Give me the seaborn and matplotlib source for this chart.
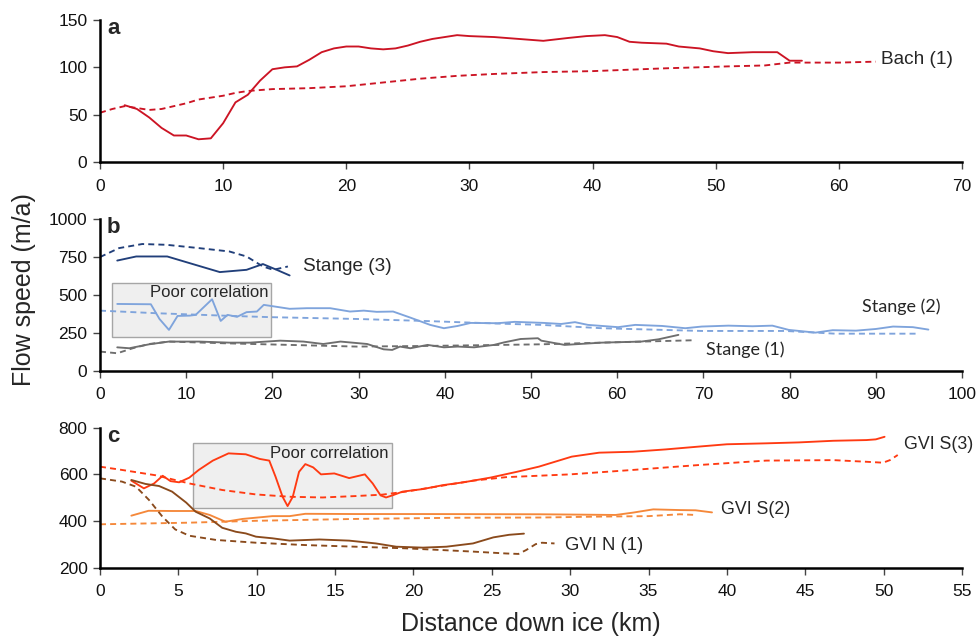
import matplotlib
matplotlib.use("Agg")
import matplotlib.pyplot as plt
import matplotlib.patches as mpatches
import seaborn as sns
import numpy as np

sns.set_theme(style="white")
plt.rcParams['font.family'] = ['Liberation Sans', 'DejaVu Sans']

# ---------------- Panel a: Bach ----------------
bach_obs_x = [2.0, 3.0, 4.0, 5.0, 6.0, 7.0, 8.0, 9.0, 10.0, 11.0, 12.0, 13.0, 14.0, 15.0, 16.0,
              17.0, 18.0, 19.0, 20.0, 21.0, 22.0, 23.0, 24.0, 25.0, 26.0, 27.0, 28.0, 29.0, 30.0,
              32.0, 34.0, 36.0, 38.0, 39.5, 41.0, 42.0, 43.0, 44.0, 46.0, 47.0, 48.7, 49.8, 51.0,
              53.0, 55.0, 56.0, 57.0]
bach_obs_y = [60, 56, 47, 36, 28, 28, 24, 25, 41, 63, 71, 86, 98, 100, 101,
              108, 116, 120, 122, 122, 120, 119, 120, 123, 127, 130, 132, 134, 133,
              132, 130, 128, 131, 133, 134, 132, 127, 126, 125, 122, 120, 117, 115,
              116, 116, 107, 107]
bach_mod_x = [0, 1, 2, 3, 4, 5, 6, 7, 8, 9, 10, 11, 12, 14, 17, 20, 23, 26, 29, 32, 36,
              40, 46, 51, 54, 56, 60, 63]
bach_mod_y = [52, 56, 59, 57, 55, 56, 59, 62, 66, 68, 70, 73, 75, 77, 78, 80, 84, 88, 91,
              93, 95, 96, 99, 101, 102, 105, 105, 106]

# ---------------- Panel b: Stange ----------------
st3_obs_x = [2.0, 4.2, 7.8, 10.4, 13.9, 17.0, 18.9, 20.5, 22.0]
st3_obs_y = [726, 753, 753, 709, 650, 665, 703, 665, 628]
st3_mod_x = [0, 2.2, 4.9, 7.7, 11.5, 15.0, 17.0, 18.9, 20.1, 21.8]
st3_mod_y = [749, 808, 835, 830, 808, 786, 753, 687, 665, 687]

st2_obs_x = [2.0, 5.9, 6.9, 8.0, 9.0, 10.4, 11.1, 13.0, 14.0, 14.8, 15.9, 17.0, 18.2, 19.0,
             22.0, 24.0, 26.7, 29.0, 30.6, 32.1, 34.0, 36.0, 38.3, 39.9, 41.5, 43.0, 46.1,
             48.1, 51.5, 53.5, 55.1, 56.6, 60.1, 62.1, 65.2, 67.9, 69.8, 72.9, 75.7, 78.0,
             79.9, 83.0, 85.0, 87.7, 90.0, 92.0, 94.3, 96.1]
st2_obs_y = [440, 438, 341, 269, 361, 363, 368, 471, 328, 368, 355, 386, 390, 434,
             408, 412, 412, 390, 396, 388, 390, 350, 302, 280, 295, 315, 313,
             322, 315, 308, 320, 302, 287, 302, 295, 280, 291, 297, 293, 297,
             269, 251, 267, 264, 275, 291, 287, 271]
st2_mod_x = [0, 6.5, 14.3, 19.7, 29.8, 37.6, 46.5, 51.2, 58.2, 69.8, 79.5, 85.3, 94.9]
st2_mod_y = [396, 379, 363, 353, 341, 328, 310, 302, 280, 262, 262, 244, 244]

st1_obs_x = [2.0, 3.4, 5.7, 8.0, 11.5, 15.0, 17.4, 20.9, 23.6, 25.9, 27.9, 31.0, 32.9, 33.9,
             34.8, 36.0, 38.0, 39.9, 41.5, 43.4, 45.7, 46.9, 48.8, 50.8, 51.2, 53.9, 58.2,
             62.8, 64.8, 67.1]
st1_obs_y = [154, 148, 174, 192, 192, 185, 185, 198, 192, 176, 192, 176, 141, 137,
             159, 148, 170, 154, 159, 154, 170, 187, 209, 214, 198, 170, 185,
             192, 207, 236]
st1_mod_x = [0, 2.0, 3.8, 5.7, 8.0, 14.3, 22.0, 29.8, 37.6, 46.5, 51.2, 58.2, 69.1]
st1_mod_y = [126, 115, 148, 176, 192, 181, 170, 159, 163, 170, 174, 185, 201]

# ---------------- Panel c: GVI ----------------
gs3_obs_x = [2.0, 2.8, 3.45, 4.0, 4.5, 5.05, 5.7, 6.3, 7.2, 8.2, 9.3, 10.2, 10.8, 11.2, 11.65,
             11.97, 12.3, 12.7, 13.1, 13.6, 14.1, 14.95, 15.9, 16.9, 17.4, 17.9, 18.25, 18.7,
             19.3, 20.6, 21.9, 23.2, 24.9, 26.6, 28.0, 30.1, 31.85, 34.0, 36.1, 38.2, 40.0,
             42.5, 44.6, 46.8, 48.9, 49.5, 50.06]
gs3_obs_y = [573, 540, 561, 594, 571, 566, 586, 619, 659, 690, 686, 666, 659, 590, 504,
             464, 504, 611, 644, 630, 600, 604, 584, 600, 561, 510, 501, 511,
             526, 537, 554, 566, 586, 611, 633, 676, 693, 697, 707, 719, 729,
             733, 737, 744, 747, 750, 761]
gs3_mod_x = [0, 1.4, 3.56, 5.7, 7.8, 9.95, 12.1, 14.2, 16.3, 18.0, 19.5, 21.7, 23.8, 25.9,
             27.6, 30.0, 34.0, 38.2, 42.5, 46.8, 48.9, 49.96, 50.4, 50.9]
gs3_mod_y = [633, 619, 596, 561, 533, 514, 504, 501, 507, 513, 526, 550, 573, 588,
             593, 600, 619, 640, 659, 661, 654, 650, 661, 683]

gs2_obs_x = [2.0, 3.1, 4.6, 6.1, 7.0, 8.0, 9.1, 11.0, 12.1, 13.1, 16.3, 20.6, 28.0, 32.9,
             34.0, 35.3, 37.0, 38.0, 39.05]
gs2_obs_y = [423, 444, 443, 443, 426, 397, 409, 421, 421, 431, 430, 430, 429, 426,
             436, 450, 447, 446, 437]
gs2_mod_x = [0, 5.7, 9.95, 16.3, 22.7, 28.0, 31.85, 35.0, 37.0, 38.0]
gs2_mod_y = [386, 393, 401, 409, 414, 415, 419, 421, 429, 426]

gn1_obs_x = [2.0, 2.9, 3.77, 4.6, 5.5, 6.1, 7.0, 7.8, 8.67, 9.3, 9.95, 11.0, 12.1, 14.0,
             15.9, 17.6, 18.9, 20.6, 22.1, 23.8, 25.1, 26.1, 27.05]
gn1_obs_y = [576, 559, 550, 526, 479, 440, 411, 371, 354, 347, 333, 326, 316, 321,
             316, 304, 290, 286, 290, 304, 330, 341, 346]
gn1_mod_x = [0, 1.4, 2.3, 3.13, 3.98, 4.8, 5.7, 7.4, 9.95, 13.1, 16.3, 19.5, 21.7, 23.8,
             25.9, 26.7, 27.2, 27.8, 28.2, 29.0]
gn1_mod_y = [583, 569, 547, 490, 419, 364, 337, 319, 307, 297, 290, 283, 276, 269,
             261, 259, 276, 301, 307, 304]

# colours
c_bach = "#CC1424"
c_st3 = "#213F7A"
c_st2 = "#7FA4DC"
c_st1 = "#6E6E6E"
c_gs3 = "#FF3A12"
c_gs2 = "#F5883A"
c_gn1 = "#8A4A1C"

dash = (0, (3.2, 2.2))
LBL = 13.7
TICK = 12.5

fig = plt.figure(figsize=(9.76, 6.39), dpi=100)
W, H = 976, 639
def ax_at(l, r, t, b):
    return fig.add_axes([l / W, 1 - b / H, (r - l) / W, (b - t) / H])

axa = ax_at(100, 962, 20, 162)
axb = ax_at(100, 962, 219, 370.7)
axc = ax_at(100, 962, 427.7, 567.7)

def draw(ax, x, y, color, style, lw=1.35):
    sns.lineplot(x=x, y=y, ax=ax, color=color, linewidth=lw, linestyle=style,
                 sort=False, estimator=None)

# panel a
draw(axa, bach_obs_x, bach_obs_y, c_bach, '-')
draw(axa, bach_mod_x, bach_mod_y, c_bach, dash)
axa.set_xlim(0, 70); axa.set_ylim(0, 150)
axa.set_xticks(range(0, 71, 10)); axa.set_yticks([0, 50, 100, 150])
axa.text(63.4, 108.5, "Bach (1)", fontsize=LBL, va='center', ha='left')

# panel b
rect = mpatches.Rectangle((1.43, 225), 18.4, 352, facecolor="#EFEFEF",
                          edgecolor="#A6A6A6", linewidth=1.0, zorder=0.5)
axb.add_patch(rect)
axb.text(19.6, 518, "Poor correlation", fontsize=12, ha='right', va='center')
draw(axb, st3_obs_x, st3_obs_y, c_st3, '-')
draw(axb, st3_mod_x, st3_mod_y, c_st3, dash)
draw(axb, st2_obs_x, st2_obs_y, c_st2, '-')
draw(axb, st2_mod_x, st2_mod_y, c_st2, dash)
draw(axb, st1_obs_x, st1_obs_y, c_st1, '-')
draw(axb, st1_mod_x, st1_mod_y, c_st1, dash)
axb.set_xlim(0, 100); axb.set_ylim(0, 1000)
axb.set_xticks(range(0, 101, 10)); axb.set_yticks([0, 250, 500, 750, 1000])
axb.text(23.5, 685, "Stange (3)", fontsize=LBL, va='center', ha='left')
axb.text(88.4, 425, "Stange (2)", fontsize=13, va='center', ha='left',
         family=['Lato', 'DejaVu Sans'])
axb.text(70.3, 140, "Stange (1)", fontsize=13, va='center', ha='left',
         family=['Lato', 'DejaVu Sans'])

# panel c
rect2 = mpatches.Rectangle((5.96, 458), 12.64, 275, facecolor="#EFEFEF",
                           edgecolor="#A6A6A6", linewidth=1.0, zorder=0.5)
axc.add_patch(rect2)
axc.text(18.4, 688, "Poor correlation", fontsize=12, ha='right', va='center')
draw(axc, gs3_obs_x, gs3_obs_y, c_gs3, '-')
draw(axc, gs3_mod_x, gs3_mod_y, c_gs3, dash)
draw(axc, gs2_obs_x, gs2_obs_y, c_gs2, '-')
draw(axc, gs2_mod_x, gs2_mod_y, c_gs2, dash)
draw(axc, gn1_obs_x, gn1_obs_y, c_gn1, '-')
draw(axc, gn1_mod_x, gn1_mod_y, c_gn1, dash)
axc.set_xlim(0, 55); axc.set_ylim(200, 800)
axc.set_xticks(range(0, 56, 5)); axc.set_yticks([200, 400, 600, 800])
axc.text(51.3, 730, "GVI S(3)", fontsize=12.8, va='center', ha='left')
axc.text(39.6, 451, "GVI S(2)", fontsize=12.8, va='center', ha='left')
axc.text(29.7, 293, "GVI N (1)", fontsize=13.3, va='center', ha='left')
axc.set_xlabel("Distance down ice (km)", fontsize=18, labelpad=9)

for ax, lab in [(axa, 'a'), (axb, 'b'), (axc, 'c')]:
    sns.despine(ax=ax)
    ax.spines['left'].set_linewidth(1.8)
    ax.spines['bottom'].set_linewidth(1.8)
    ax.spines['left'].set_color('black')
    ax.spines['bottom'].set_color('black')
    ax.tick_params(axis='both', direction='out', length=5, width=1.0, color='#444444',
                   labelsize=TICK, left=True, bottom=True, labelcolor='#111111')
    ax.tick_params(axis='x', pad=7)
    ax.tick_params(axis='y', pad=4)
    ax.set_ylabel("")
    if ax is not axc:
        ax.set_xlabel("")
    ax.text(0.008, 1.015, lab, transform=ax.transAxes, fontsize=16, fontweight='bold',
            va='top', ha='left')
    ax.set_facecolor('white')

fig.text(24 / W, 1 - 290 / H, "Flow speed (m/a)", rotation=90, fontsize=18,
         ha='center', va='center')

fig.savefig("out.png", dpi=100, facecolor='white')
